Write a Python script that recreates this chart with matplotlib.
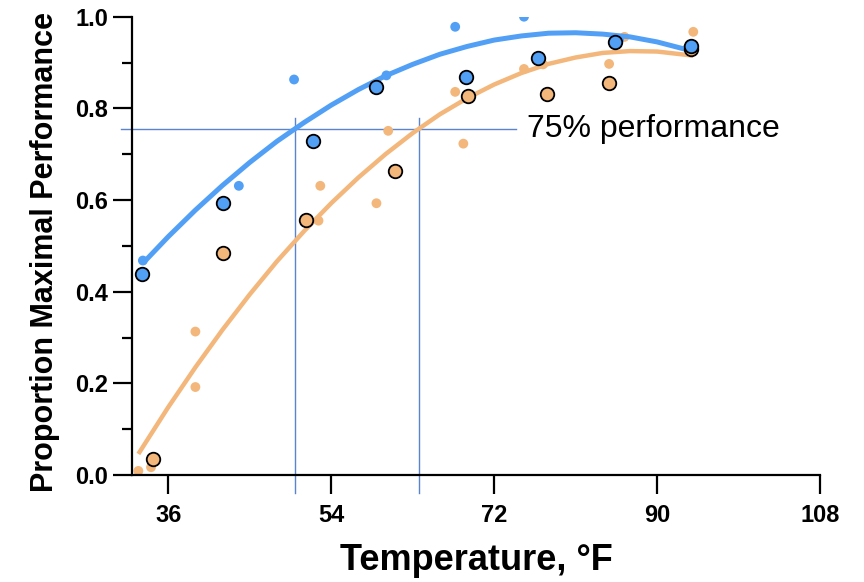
import matplotlib
matplotlib.use("Agg")
import matplotlib.pyplot as plt
from matplotlib.ticker import MultipleLocator

plt.rcParams['font.family'] = ['Liberation Sans', 'DejaVu Sans']

BLUE = "#52A0F6"
ORANGE = "#F3B77C"
REF = "#5A84CF"

# Blue series: individual observations
blue_x = [33.2, 43.8, 49.9, 60.1, 67.7, 75.3, 85.8, 93.4]
blue_y = [0.468, 0.631, 0.863, 0.872, 0.978, 1.000, 0.950, 0.932]
# Blue series: means
blue_mx = [33.05, 42.0, 52.0, 59.0, 68.9, 76.8, 85.4, 93.7]
blue_my = [0.439, 0.594, 0.729, 0.847, 0.868, 0.910, 0.945, 0.936]
# Blue fitted curve
blue_cx = [33.2, 36, 39, 42, 45, 48, 51, 54, 57, 60, 63, 66, 69, 72, 75, 78, 81, 84, 87, 90, 93.7]
blue_cy = [0.462, 0.520, 0.578, 0.632, 0.682, 0.728, 0.769, 0.807, 0.841, 0.871, 0.896,
           0.918, 0.935, 0.949, 0.958, 0.964, 0.965, 0.962, 0.956, 0.945, 0.926]

# Orange series: individual observations
orange_x = [32.7, 34.1, 39.0, 39.0, 52.8, 52.6, 59.0, 60.3, 67.7, 68.6, 75.3, 77.4, 84.7, 86.4, 94.0, 94.0]
orange_y = [0.009, 0.017, 0.313, 0.192, 0.631, 0.555, 0.593, 0.751, 0.836, 0.723, 0.886, 0.896,
            0.897, 0.956, 0.967, 0.931]
# Orange series: means
orange_mx = [34.3, 42.0, 51.2, 61.1, 69.1, 77.8, 84.7, 93.8]
orange_my = [0.036, 0.484, 0.556, 0.664, 0.826, 0.831, 0.856, 0.930]
# Orange fitted curve
orange_cx = [32.7, 36, 39, 42, 45, 48, 51, 54, 57, 60, 63, 66, 69, 72, 75, 78, 81, 84, 87, 90, 94]
orange_cy = [0.046, 0.148, 0.235, 0.317, 0.394, 0.466, 0.532, 0.593, 0.649, 0.700, 0.746,
             0.787, 0.822, 0.852, 0.877, 0.897, 0.911, 0.921, 0.925, 0.924, 0.915]

# 75% performance reference
ref_y = 0.756
ref_x = [50.0, 63.7]
ref_label = "75% performance"

fig = plt.figure(figsize=(8.64, 5.82), dpi=100)
ax = fig.add_axes([0.1528, 0.1838, 0.7963, 0.7875])

ax.set_xlim(32, 108)
ax.set_ylim(0, 1.0)

# reference lines
ax.plot([30.8, 74.4], [ref_y, ref_y], color=REF, lw=1.0, clip_on=False, zorder=1)
for xv in ref_x:
    ax.plot([xv, xv], [-0.04, 0.78], color=REF, lw=1.0, clip_on=False, zorder=1)
ax.text(75.6, ref_y, ref_label, fontsize=23, va='center', ha='left', color='black')

# small dots
ax.scatter(orange_x, orange_y, s=50, color=ORANGE, edgecolors='none', zorder=2)
ax.scatter(blue_x, blue_y, s=50, color=BLUE, edgecolors='none', zorder=2)

# curves
ax.plot(orange_cx, orange_cy, color=ORANGE, lw=3.2, solid_capstyle='butt', zorder=3)
ax.plot(blue_cx, blue_cy, color=BLUE, lw=3.6, solid_capstyle='butt', zorder=3)

# means
ax.scatter(orange_mx, orange_my, s=95, color=ORANGE, edgecolors='black', linewidths=1.3, zorder=4)
ax.scatter(blue_mx, blue_my, s=95, color=BLUE, edgecolors='black', linewidths=1.3, zorder=5)

for s in ['top', 'right']:
    ax.spines[s].set_visible(False)
for s in ['left', 'bottom']:
    ax.spines[s].set_linewidth(1.6)

ax.set_xticks([36, 54, 72, 90, 108])
ax.set_yticks([0.0, 0.2, 0.4, 0.6, 0.8, 1.0])
ax.set_yticklabels(["0.0", "0.2", "0.4", "0.6", "0.8", "1.0"])
ax.yaxis.set_minor_locator(MultipleLocator(0.1))
ax.tick_params(axis='both', which='major', direction='out', length=13.5, width=1.6)
ax.tick_params(axis='y', which='minor', direction='out', length=7, width=1.6)
ax.tick_params(axis='x', which='major', pad=7, labelsize=17)
ax.tick_params(axis='y', which='major', pad=3.5, labelsize=17)
for lab in ax.get_xticklabels() + ax.get_yticklabels():
    lab.set_fontweight('bold')

ax.set_xlabel("Temperature, °F", fontsize=26, fontweight='bold', labelpad=12)
ax.set_ylabel("Proportion Maximal Performance", fontsize=22, fontweight='bold')
ax.yaxis.set_label_coords(-0.105, 0.487)

fig.savefig("out.png", dpi=100)
